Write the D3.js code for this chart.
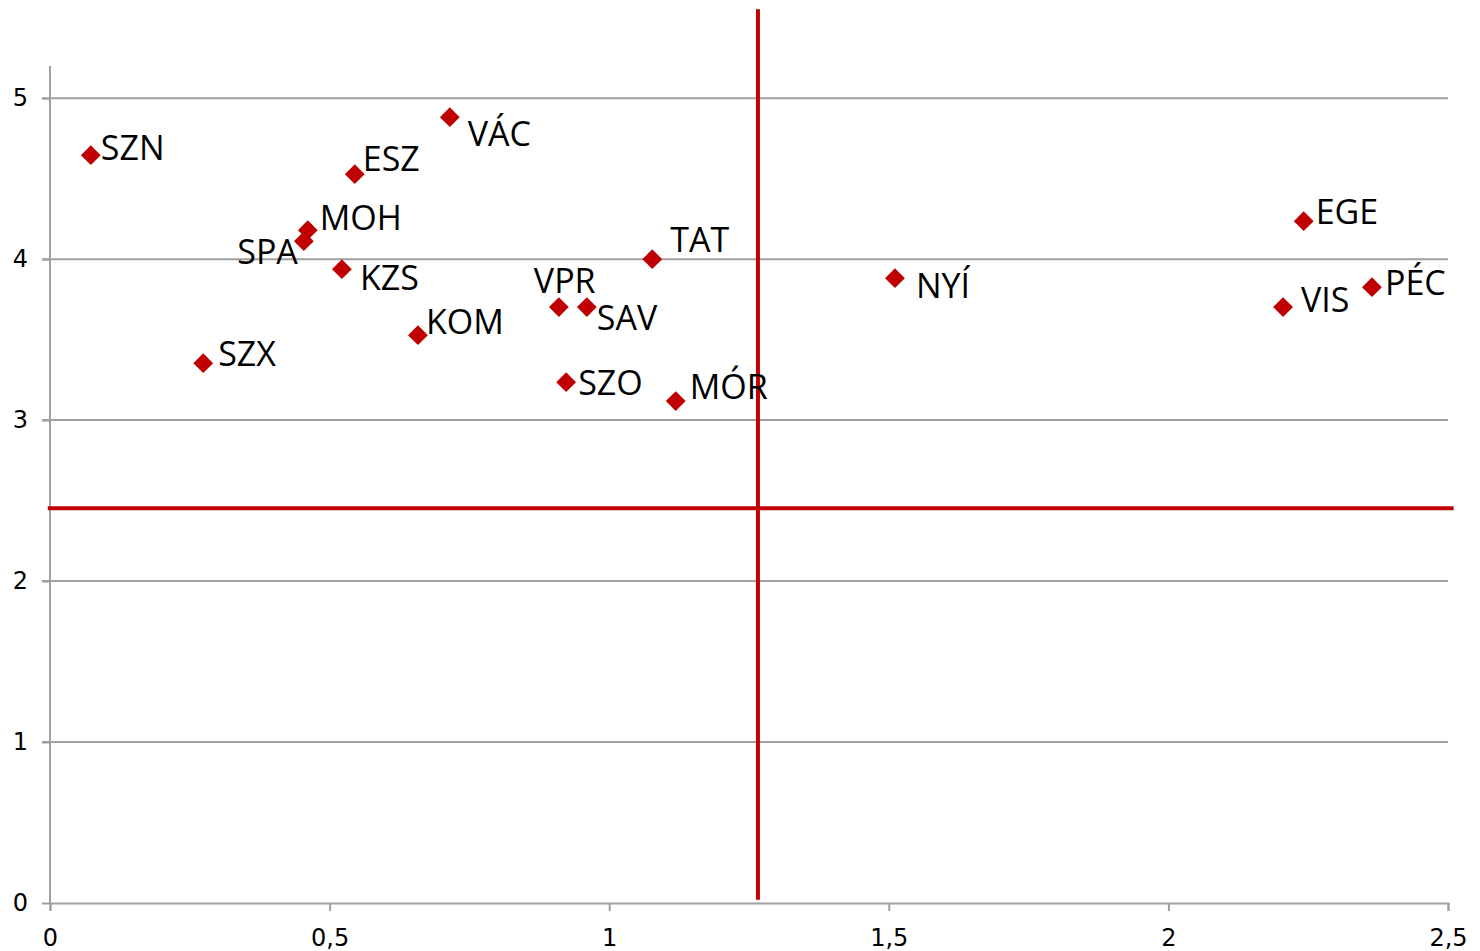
<!DOCTYPE html>
<html>
<head>
<meta charset="utf-8">
<script src="https://cdn.jsdelivr.net/npm/d3@7"></script>
<style>
  body { margin: 0; background: #fff; }
</style>
</head>
<body>
<div id="chart"></div>
<script>
// city codes and their two scores
let codes = ['SZN', 'SZX', 'SPA', 'MOH', 'ESZ', 'KZS', 'KOM', 'VÁC', 'VPR', 'SAV', 'SZO', 'TAT', 'MÓR', 'NYÍ', 'EGE', 'VIS', 'PÉC'];
let xValues = [0.073, 0.274, 0.454, 0.461, 0.545, 0.522, 0.658, 0.715, 0.910, 0.960, 0.923, 1.077, 1.119, 1.511, 2.242, 2.205, 2.364];
let yValues = [4.646, 3.354, 4.112, 4.180, 4.528, 3.938, 3.528, 4.882, 3.702, 3.702, 3.236, 4.000, 3.118, 3.882, 4.236, 3.702, 3.826];

let xTicks = [0, 0.5, 1, 1.5, 2, 2.5];
let yTicks = [0, 1, 2, 3, 4, 5];

// averages drawn as red reference lines
let xMean = 1.266;
let yMean = 2.453;

// label placement next to each marker: [dx, dy of cap centre, anchor]
let labelPlace = {
    'SZN': [10, -7, 'start'],
    'SZX': [15, -9, 'start'],
    'SPA': [-6, 11, 'end'],
    'MOH': [12, -12, 'start'],
    'ESZ': [8, -15, 'start'],
    'KZS': [18, 9, 'start'],
    'KOM': [8, -13, 'start'],
    'VÁC': [18, 17, 'start'],
    'VPR': [-25, -26, 'start'],
    'SAV': [10, 11, 'start'],
    'SZO': [12, 1, 'start'],
    'TAT': [18, -19, 'start'],
    'MÓR': [14, -14, 'start'],
    'NYÍ': [21, 8, 'start'],
    'EGE': [12, -9, 'start'],
    'VIS': [18, -7, 'start'],
    'PÉC': [13, -4, 'start']
};

let points = codes.map((c, i) => ({ code: c, x: xValues[i], y: yValues[i] }));

let width = 1480;
let height = 951;
let margin = { left: 50, right: 32, top: 66, bottom: 48 };
let red = '#c00000';
let grid = '#a0a0a0';

let svg = d3.select('#chart')
    .append('svg')
    .attr('width', width)
    .attr('height', height);

let x = d3.scaleLinear([0, 2.5], [margin.left, width - margin.right]);
let y = d3.scaleLinear([0, 5.2], [height - margin.bottom, margin.top]);

// horizontal gridlines
svg.append('g')
    .attr('stroke', grid)
    .attr('stroke-width', 2)
    .selectAll('line')
    .data(yTicks.filter(d => d > 0))
    .join('line')
    .attr('x1', x(0) - 8)
    .attr('x2', x(2.5))
    .attr('y1', d => y(d))
    .attr('y2', d => y(d));

// y axis
let yAxis = svg.append('g')
    .attr('transform', `translate(${x(0)},0)`)
    .call(d3.axisLeft(y).tickValues(yTicks).tickSize(8).tickPadding(14).tickFormat(d3.format('d')));

// x axis
let xAxis = svg.append('g')
    .attr('transform', `translate(0,${y(0)})`)
    .call(d3.axisBottom(x).tickValues(xTicks).tickSize(8).tickPadding(18)
        .tickFormat(d => String(d).replace('.', ',')));

[yAxis, xAxis].forEach(a => {
    a.select('.domain').attr('stroke', grid).attr('stroke-width', 2);
    a.selectAll('.tick line').attr('stroke', grid).attr('stroke-width', 2);
    a.selectAll('.tick text')
        .attr('fill', '#000')
        .attr('font-family', 'DejaVu Sans')
        .attr('font-size', 24);
});
yAxis.select('.domain').attr('d', `M0,${y(0)}V${y(5.2)}`);

// red reference lines
svg.append('line')
    .attr('x1', x(-0.004))
    .attr('x2', x(2.51))
    .attr('y1', y(yMean))
    .attr('y2', y(yMean))
    .attr('stroke', red)
    .attr('stroke-width', 4);

svg.append('line')
    .attr('x1', x(xMean))
    .attr('x2', x(xMean))
    .attr('y1', y(0.02))
    .attr('y2', y(5.553))
    .attr('stroke', red)
    .attr('stroke-width', 4);

// markers
let diamond = d3.symbol().type(d3.symbolSquare).size(196);

svg.append('g')
    .selectAll('path')
    .data(points)
    .join('path')
    .attr('d', diamond)
    .attr('fill', red)
    .attr('transform', d => `translate(${x(d.x)},${y(d.y)}) rotate(45)`);

// labels
svg.append('g')
    .attr('font-family', 'Open Sans')
    .attr('font-size', 34)
    .attr('fill', '#000')
    .selectAll('text')
    .data(points)
    .join('text')
    .attr('x', d => x(d.x) + labelPlace[d.code][0])
    .attr('y', d => y(d.y) + labelPlace[d.code][1] + 12)
    .attr('text-anchor', d => labelPlace[d.code][2])
    .text(d => d.code);
</script>
</body>
</html>
